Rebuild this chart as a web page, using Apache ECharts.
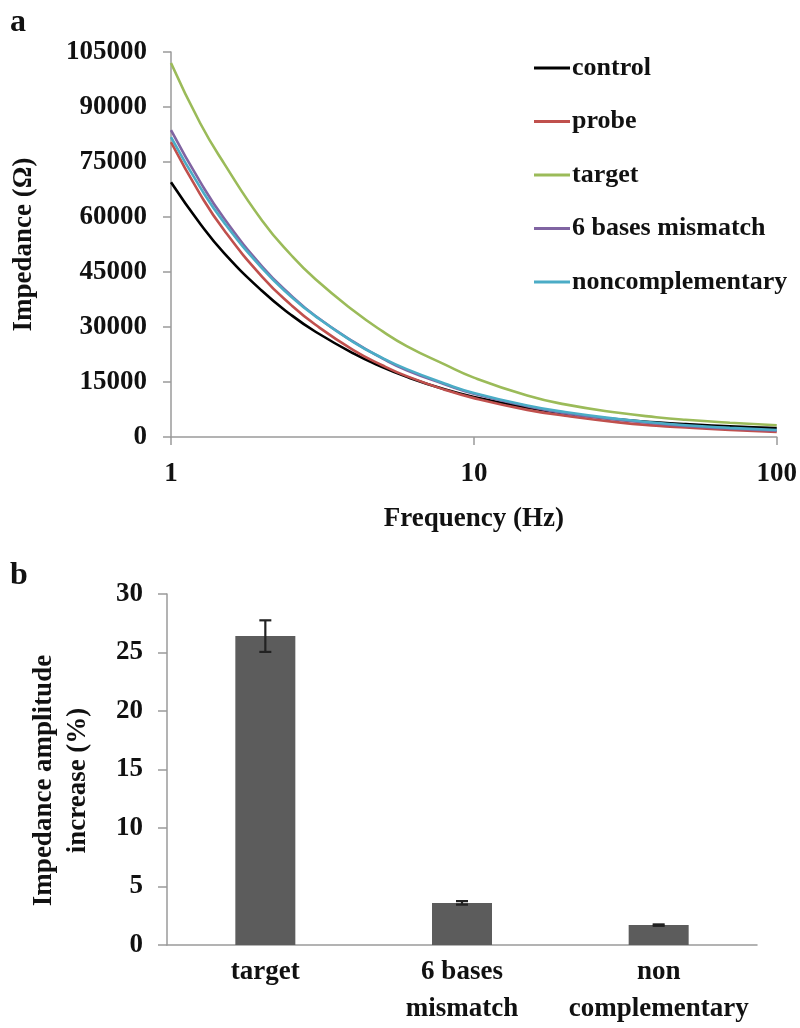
<!DOCTYPE html>
<html><head><meta charset="utf-8">
<script src="https://cdn.jsdelivr.net/npm/echarts@6/dist/echarts.min.js"></script>
<style>html,body{margin:0;padding:0;background:#fff}#c{width:800px;height:1028px}</style>
</head><body><div id="c"></div>
<script>
// ---- Data (panel a) ----
const freqs = [1, 1.25, 1.5, 2, 2.5, 3, 4, 5, 6, 8, 10, 15, 20, 30, 40, 50, 70, 100];
const controlZ  = [69500, 58100, 50100, 39800, 33200, 28700, 22800, 19000, 16400, 13000, 10900, 8000, 6400, 4800, 4000, 3500, 2900, 2450];
const probeZ    = [80400, 66100, 56300, 43700, 35900, 30600, 23700, 19500, 16600, 12900, 10600, 7400, 5800, 4000, 3100, 2600, 1900, 1400];
const targetZ   = [102000, 85500, 74500, 59000, 49500, 43000, 34500, 28800, 24800, 19800, 16200, 11300, 8900, 6600, 5400, 4700, 3900, 3200];
const mismatchZ = [83700, 69500, 59500, 46500, 38500, 33000, 26000, 21400, 18200, 14400, 11800, 8400, 6500, 4700, 3700, 3000, 2300, 1700];
const noncompZ  = [81800, 68000, 58400, 46000, 38200, 32900, 25900, 21500, 18500, 14600, 12000, 8600, 6800, 4900, 3900, 3200, 2500, 1900];
const lineNames = ['control', 'probe', 'target', '6 bases mismatch', 'noncomplementary'];
const lineColors = ['#000000', '#c0504d', '#9bbb59', '#8064a2', '#4bacc6'];

// ---- Data (panel b) ----
const barCategories = ['target', '6 bases\nmismatch', 'non\ncomplementary'];
const barValues = [26.4, 3.6, 1.7];
const barErrors = [1.35, 0.15, 0.06];

const FONT = "'Liberation Serif', 'Times New Roman', serif";
const lineSeriesData = [controlZ, probeZ, targetZ, mismatchZ, noncompZ];

const chart = echarts.init(document.getElementById('c'), null, {renderer: 'canvas'});

const lineSeries = lineNames.map((n, i) => ({
  name: n, type: 'line', xAxisIndex: 0, yAxisIndex: 0,
  data: freqs.map((f, k) => [f, lineSeriesData[i][k]]),
  smooth: true, showSymbol: false, symbol: 'none',
  lineStyle: {color: lineColors[i], width: 2.6},
  itemStyle: {color: lineColors[i]},
  z: 2 + i
}));

const labelStyle = {fontFamily: FONT, fontWeight: 'bold', fontSize: 27, color: '#111'};
const axisLineStyle = {show: true, lineStyle: {color: '#9a9a9a', width: 1.5}};
const plainNum = v => String(v);

const option = {
  backgroundColor: '#fff',
  animation: false,
  graphic: [
    {type: 'text', left: 10, top: 7, style: {text: 'a', font: 'bold 32px ' + FONT, fill: '#111'}},
    {type: 'text', left: 10, top: 560, style: {text: 'b', font: 'bold 32px ' + FONT, fill: '#111'}}
  ],
  legend: {
    data: lineNames,
    orient: 'vertical', left: 529, top: 50,
    icon: 'rect', itemWidth: 36, itemHeight: 3, itemGap: 27.5,
    textStyle: {fontFamily: FONT, fontWeight: 'bold', fontSize: 26, color: '#111', lineHeight: 26, padding: [0,0,0,-3]}
  },
  grid: [
    {left: 171, right: 22, top: 52, height: 385},
    {left: 167, right: 43, top: 594, height: 353}
  ],
  xAxis: [
    {
      type: 'log', logBase: 10, min: 1, max: 100, gridIndex: 0,
      name: 'Frequency (Hz)', nameLocation: 'middle', nameGap: 69,
      nameTextStyle: labelStyle,
      axisLine: axisLineStyle,
      axisTick: {show: true, length: 8, lineStyle: {color: '#9a9a9a', width: 1.5}},
      minorTick: {show: false},
      splitLine: {show: false},
      axisLabel: Object.assign({margin: 24, formatter: plainNum}, labelStyle)
    },
    {
      type: 'category', gridIndex: 1, data: barCategories,
      axisLine: axisLineStyle,
      axisTick: {show: false},
      axisLabel: Object.assign({margin: 9, lineHeight: 37, interval: 0}, labelStyle)
    }
  ],
  yAxis: [
    {
      type: 'value', gridIndex: 0, min: 0, max: 105000, interval: 15000,
      name: 'Impedance (Ω)', nameLocation: 'middle', nameGap: 133,
      nameTextStyle: labelStyle,
      axisLine: axisLineStyle,
      axisTick: {show: true, length: 8, lineStyle: {color: '#9a9a9a', width: 1.5}},
      splitLine: {show: false},
      axisLabel: Object.assign({margin: 24, formatter: plainNum}, labelStyle)
    },
    {
      type: 'value', gridIndex: 1, min: 0, max: 30, interval: 5,
      name: 'Impedance amplitude\nincrease (%)', nameLocation: 'middle', nameGap: 72,
      nameTextStyle: Object.assign({lineHeight: 34, padding: [0, 22, 0, 0]}, labelStyle),
      axisLine: axisLineStyle,
      axisTick: {show: true, length: 9, lineStyle: {color: '#9a9a9a', width: 1.5}},
      splitLine: {show: false},
      axisLabel: Object.assign({margin: 24, formatter: plainNum}, labelStyle)
    }
  ],
  series: lineSeries.concat([
    {
      type: 'bar', xAxisIndex: 1, yAxisIndex: 1,
      data: barValues, barWidth: 60,
      itemStyle: {color: '#5c5c5c'}
    },
    {
      type: 'custom', xAxisIndex: 1, yAxisIndex: 1, z: 10,
      data: barValues.map((v, i) => [i, v - barErrors[i], v + barErrors[i]]),
      renderItem: function (params, api) {
        const lo = api.coord([api.value(0), api.value(1)]);
        const hi = api.coord([api.value(0), api.value(2)]);
        const hw = 6;
        const st = {stroke: '#222', lineWidth: 2.2};
        return {
          type: 'group',
          children: [
            {type: 'line', shape: {x1: lo[0], y1: lo[1], x2: hi[0], y2: hi[1]}, style: st},
            {type: 'line', shape: {x1: lo[0]-hw, y1: lo[1], x2: lo[0]+hw, y2: lo[1]}, style: st},
            {type: 'line', shape: {x1: hi[0]-hw, y1: hi[1], x2: hi[0]+hw, y2: hi[1]}, style: st}
          ]
        };
      }
    }
  ])
};
chart.setOption(option);
</script>
</body></html>
